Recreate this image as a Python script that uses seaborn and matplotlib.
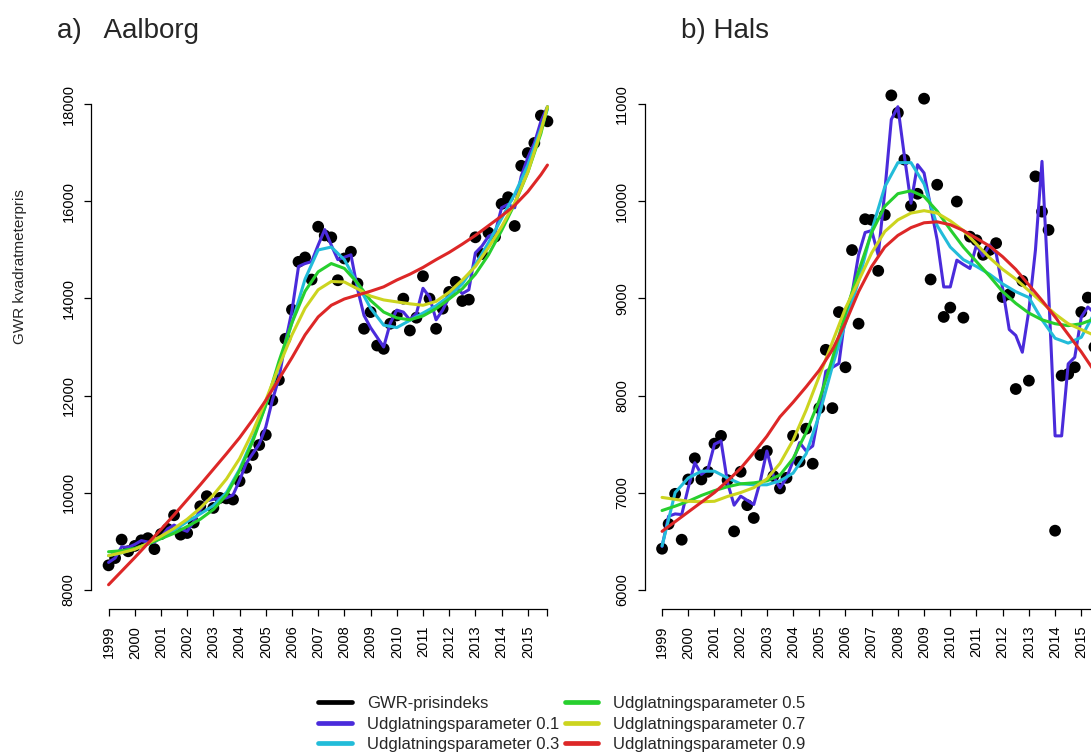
import matplotlib
matplotlib.use("Agg")
import matplotlib.pyplot as plt
import seaborn as sns
from matplotlib.lines import Line2D
from matplotlib import font_manager

# ---------------- data ----------------
years = list(range(1999, 2016))
quarter_idx = list(range(68))                    # 1999Q1 ... 2015Q4
smooth_idx = list(range(0, 68, 2)) + [67]

legend_labels = ["GWR-prisindeks", "Udglatningsparameter 0.1", "Udglatningsparameter 0.3",
                 "Udglatningsparameter 0.5", "Udglatningsparameter 0.7", "Udglatningsparameter 0.9"]

aalborg_obs = [8500, 8650, 9030, 8790, 8900, 9015, 9060, 8834, 9145, 9250, 9532, 9132, 9166, 9380,
               9718, 9925, 9683, 9890, 9880, 9856, 10236, 10511, 10774, 10980, 11188, 11900, 12320,
               13169, 13769, 14755, 14846, 14390, 15479, 15300, 15259, 14376, 14825, 14963, 14307,
               13376, 13720, 13030, 12962, 13480, 13651, 13997, 13340, 13604, 14459, 13997, 13376,
               13790, 14135, 14342, 13948, 13976, 15261, 14916, 15356, 15273, 15949, 16087, 15494,
               16735, 16998, 17205, 17770, 17652]
aalborg_s01 = [8560, 8650, 8880, 8870, 8930, 9010, 8980, 8980, 9080, 9250, 9330, 9250, 9200, 9400,
               9650, 9830, 9860, 9880, 9890, 9950, 10250, 10600, 10800, 11000, 11350, 11900, 12350,
               13100, 13750, 14660, 14720, 14760, 15100, 15420, 15100, 14800, 14850, 14900, 14200,
               13650, 13400, 13200, 13000, 13490, 13760, 13720, 13560, 13690, 14210, 14030, 13560,
               13760, 14030, 14240, 14100, 14180, 14940, 15080, 15280, 15350, 15870, 15940, 15870,
               16520, 16900, 17200, 17650, 17950]
aalborg_s03 = [8700, 8760, 8840, 8940, 9060, 9220, 9400, 9560, 9730, 10000, 10480, 11100, 11800,
               12600, 13500, 14400, 15000, 15060, 14800, 14300, 13800, 13450, 13400, 13550, 13700,
               13850, 14050, 14300, 14700, 15150, 15650, 16150, 16750, 17500, 17900]
aalborg_s05 = [8780, 8800, 8850, 8940, 9050, 9160, 9300, 9450, 9650, 9950, 10450, 11050, 11800,
               12700, 13500, 14150, 14550, 14720, 14620, 14320, 13960, 13720, 13600, 13560, 13640,
               13790, 13990, 14200, 14500, 14900, 15400, 15950, 16600, 17400, 17950]
aalborg_s07 = [8700, 8760, 8830, 8950, 9100, 9260, 9450, 9680, 9950, 10280, 10700, 11250, 11900,
               12600, 13250, 13800, 14180, 14350, 14340, 14200, 14050, 13970, 13930, 13890, 13860,
               13940, 14130, 14380, 14660, 15050, 15480, 15970, 16600, 17450, 17950]
aalborg_s09 = [8100, 8380, 8660, 8950, 9240, 9540, 9850, 10160, 10480, 10800, 11130, 11500, 11900,
               12340, 12780, 13250, 13620, 13860, 13990, 14070, 14150, 14240, 14380, 14500, 14640,
               14800, 14950, 15120, 15300, 15500, 15700, 15920, 16200, 16550, 16750]

hals_obs = [6421, 6676, 6987, 6514, 7135, 7353, 7135, 7214, 7504, 7584, 7128, 6600, 7214, 6870,
            6738, 7387, 7428, 7170, 7042, 7152, 7584, 7318, 7658, 7297, 7870, 8471, 7870, 8860,
            8291, 9499, 8740, 9817, 9810, 9285, 9861, 11093, 10914, 10431, 9954, 10079, 11059,
            9196, 10172, 8810, 8906, 9999, 8802, 9637, 9600, 9450, 9500, 9570, 9015, 9043, 8067,
            9181, 8153, 10258, 9895, 9706, 6607, 8205, 8222, 8291, 8860, 9009, 8500, 8700]
hals_s01 = [6445, 6756, 6780, 6773, 7050, 7307, 7187, 7239, 7498, 7532, 7100, 6870, 6963, 6920,
            6877, 7118, 7428, 7170, 7049, 7152, 7325, 7515, 7428, 7480, 7842, 8250, 8290, 8330,
            8843, 9050, 9450, 9680, 9700, 9447, 10100, 10845, 10976, 10465, 9982, 10379, 10293,
            9947, 9602, 9119, 9119, 9395, 9350, 9309, 9551, 9437, 9551, 9465, 9100, 8680, 8619,
            8446, 8878, 9499, 10413, 9085, 7584, 7584, 8326, 8394, 8808, 8912, 8850, 8800]
hals_s03 = [6450, 7000, 7150, 7220, 7220, 7150, 7090, 7080, 7080, 7120, 7200, 7400, 7800, 8300,
            8750, 9180, 9700, 10150, 10400, 10400, 10180, 9750, 9530, 9400, 9330, 9250, 9150,
            9070, 9010, 8780, 8590, 8540, 8600, 8850, 9000]
hals_s05 = [6815, 6860, 6910, 6970, 7020, 7060, 7090, 7100, 7120, 7180, 7350, 7620, 7950, 8380,
            8850, 9280, 9680, 9950, 10080, 10110, 10050, 9900, 9710, 9530, 9380, 9230, 9070, 8950,
            8850, 8780, 8740, 8720, 8740, 8790, 8820]
hals_s07 = [6950, 6930, 6910, 6905, 6910, 6960, 7000, 7050, 7140, 7300, 7540, 7850, 8200, 8550,
            8900, 9180, 9470, 9690, 9810, 9880, 9905, 9880, 9800, 9700, 9560, 9420, 9300, 9200,
            9080, 8960, 8840, 8740, 8680, 8620, 8600]
hals_s09 = [6600, 6700, 6800, 6900, 7000, 7120, 7250, 7410, 7580, 7780, 7930, 8090, 8260, 8470,
            8750, 9070, 9330, 9530, 9650, 9730, 9780, 9790, 9760, 9700, 9620, 9540, 9430, 9300,
            9140, 8980, 8810, 8630, 8450, 8250, 8150]

aalborg_yticks = [8000, 10000, 12000, 14000, 16000, 18000]
hals_yticks = [6000, 7000, 8000, 9000, 10000, 11000]

colors = ["black", "#4A2BDB", "#22BCD9", "#27CF2E", "#CCD41F", "#DD2727"]

# ---------------- style ----------------
sns.set_style("white")
names = {f.name for f in font_manager.fontManager.ttflist}
plt.rcParams['font.family'] = ['Liberation Sans', 'DejaVu Sans']
narrow = 'Liberation Sans Narrow' if 'Liberation Sans Narrow' in names else None

W, H = 1091, 754
fig = plt.figure(figsize=(W / 100, H / 100), dpi=100)
ax1 = fig.add_axes([91 / W, 1 - 609 / H, 474 / W, 524 / H])
ax2 = fig.add_axes([644.5 / W, 1 - 609 / H, 474 / W, 524 / H])


def draw(ax, obs, s01, s03, s05, s07, s09, yticks):
    sns.scatterplot(x=quarter_idx, y=obs, ax=ax, color=colors[0], s=72,
                    edgecolor="none", linewidth=0, zorder=2, legend=False)
    sns.lineplot(x=quarter_idx, y=s01, ax=ax, color=colors[1], linewidth=2.2,
                 zorder=3, solid_joinstyle="round")
    for vals, col in zip([s03, s05, s07, s09], colors[2:]):
        sns.lineplot(x=smooth_idx, y=vals, ax=ax, color=col, linewidth=2.2,
                     zorder=3, solid_joinstyle="round")
    ax.set_xlim(-2.68, 69.68)
    span = yticks[-1] - yticks[0]
    ax.set_ylim(yticks[0] - 0.04 * span, yticks[-1] + 0.04 * span)
    ax.set_xticks(list(range(0, 65, 4)) + [67])
    ax.set_xticklabels([str(y) for y in years] + [""], rotation=90)
    ax.set_yticks(yticks)
    ax.set_yticklabels([str(v) for v in yticks], rotation=90, va="center")
    for s in ["top", "right"]:
        ax.spines[s].set_visible(False)
    ax.spines["left"].set_bounds(yticks[0], yticks[-1])
    ax.spines["bottom"].set_bounds(0, 67)
    for s in ["left", "bottom"]:
        ax.spines[s].set_color("black")
        ax.spines[s].set_linewidth(0.9)
    ax.tick_params(axis="both", direction="out", length=5, width=0.9,
                   labelsize=10.5, colors="black", left=True, bottom=True)
    ax.tick_params(axis="y", pad=6)
    ax.tick_params(axis="x", pad=7)
    ax.set_xlabel("")
    ax.set_ylabel("")
    ax.grid(False)


draw(ax1, aalborg_obs, aalborg_s01, aalborg_s03, aalborg_s05, aalborg_s07, aalborg_s09, aalborg_yticks)
draw(ax2, hals_obs, hals_s01, hals_s03, hals_s05, hals_s07, hals_s09, hals_yticks)

fig.text(20 / W, 1 - 267 / H, "GWR kvadratmeterpris", rotation=90, ha="center", va="center", fontsize=11)

tkw = dict(fontsize=22, family=narrow) if narrow else dict(fontsize=20)
fig.text(57 / W, 1 - 38 / H, "a)   Aalborg", va="baseline", ha="left", **tkw)
fig.text(681 / W, 1 - 38 / H, "b) Hals", va="baseline", ha="left", **tkw)

handles = [Line2D([0], [0], color=c, linewidth=3.4) for c in colors]
fig.legend(handles, legend_labels, ncol=2, loc="upper center",
           bbox_to_anchor=(562 / W, 1 - 696 / H), frameon=False, fontsize=12,
           handlelength=2.0, handletextpad=0.9, columnspacing=0.35,
           labelspacing=0.33, borderpad=0, borderaxespad=0)

fig.savefig("out.png", dpi=100)
